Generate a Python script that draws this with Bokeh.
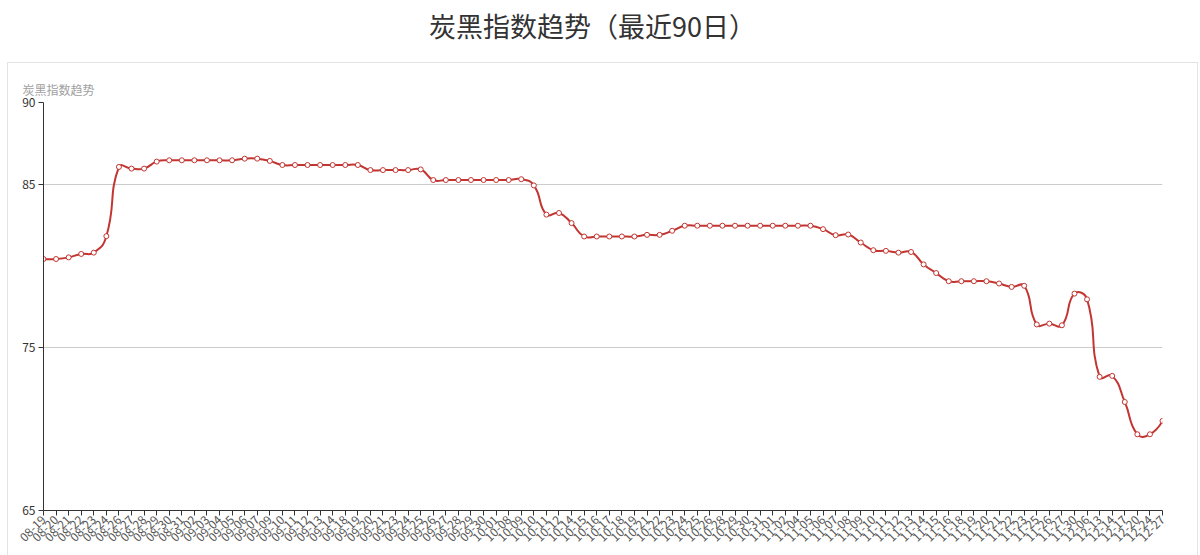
import numpy as np
from bokeh.plotting import figure
from bokeh.models import Range1d, FixedTicker, Div, Title, ColumnDataSource
from bokeh.layouts import column
from bokeh.embed import file_html
from bokeh.resources import INLINE

# ---- data -------------------------------------------------------------
dates = [
    "08-19", "08-20", "08-21", "08-22", "08-23", "08-24", "08-26", "08-27", "08-28", "08-29",
    "08-30", "08-31", "09-02", "09-03", "09-04", "09-05", "09-06", "09-07", "09-09", "09-10",
    "09-11", "09-12", "09-13", "09-14", "09-18", "09-19", "09-20", "09-21", "09-23", "09-24",
    "09-25", "09-26", "09-27", "09-28", "09-29", "09-30", "10-01", "10-08", "10-09", "10-10",
    "10-11", "10-12", "10-14", "10-15", "10-16", "10-17", "10-18", "10-19", "10-21", "10-22",
    "10-23", "10-24", "10-25", "10-26", "10-28", "10-29", "10-30", "10-31", "11-01", "11-02",
    "11-04", "11-05", "11-06", "11-07", "11-08", "11-09", "11-10", "11-11", "11-12", "11-13",
    "11-14", "11-15", "11-16", "11-18", "11-19", "11-20", "11-21", "11-22", "11-23", "11-25",
    "11-26", "11-27", "11-30", "12-06", "12-13", "12-14", "12-17", "12-20", "12-24", "12-27",
]

index_values = [
    80.41, 80.41, 80.51, 80.72, 80.80, 81.81, 86.05, 85.95, 85.95, 86.38,
    86.46, 86.46, 86.46, 86.46, 86.46, 86.46, 86.56, 86.56, 86.42, 86.17,
    86.17, 86.17, 86.17, 86.17, 86.17, 86.17, 85.86, 85.86, 85.86, 85.86,
    85.90, 85.25, 85.25, 85.25, 85.25, 85.25, 85.25, 85.25, 85.30, 84.92,
    83.13, 83.23, 82.61, 81.79, 81.79, 81.79, 81.79, 81.79, 81.89, 81.89,
    82.14, 82.45, 82.45, 82.45, 82.45, 82.45, 82.45, 82.45, 82.45, 82.45,
    82.45, 82.45, 82.24, 81.87, 81.91, 81.42, 80.95, 80.91, 80.80, 80.84,
    80.08, 79.55, 79.05, 79.05, 79.05, 79.05, 78.91, 78.70, 78.77, 76.40,
    76.45, 76.35, 78.29, 77.94, 73.19, 73.25, 71.65, 69.67, 69.67, 70.49,
]

y_ticks = [65, 75, 85, 90]

# ---- styling ----------------------------------------------------------
FONT = "Noto Sans CJK SC"
LINE_COLOR = "#c23531"

PLOT_W, PLOT_H = 1191, 493
LEFT, RIGHT, TOP, BOTTOM = 35, 37, 39, 46
Y_MIN, Y_MAX = 65, 90

n = len(index_values)
xs = np.arange(n, dtype=float)
ys = np.array(index_values, dtype=float)

# Smoothed path: cubic bezier segments whose control points are derived
# from neighbouring points in screen space (smoothness 0.5).
frame_w = PLOT_W - LEFT - RIGHT
frame_h = PLOT_H - TOP - BOTTOM
kx = frame_w / (n - 1)
ky = frame_h / (Y_MAX - Y_MIN)
px, py = xs * kx, ys * ky
smooth = 0.5

seg = dict(x0=[], y0=[], x1=[], y1=[], cx0=[], cy0=[], cx1=[], cy1=[])
cpx, cpy = px[0], py[0]
for i in range(1, n):
    x, y = px[i], py[i]
    prev_x, prev_y = px[i - 1], py[i - 1]
    if i == n - 1:
        ncx, ncy = x, y
        vx = vy = 0.0
        ratio = 0.5
    else:
        nx_, ny_ = px[i + 1], py[i + 1]
        vx, vy = nx_ - prev_x, ny_ - prev_y
        l0 = np.hypot(x - prev_x, y - prev_y)
        l1 = np.hypot(nx_ - x, ny_ - y)
        ratio = l1 / (l0 + l1)
        ncx = x - vx * smooth * (1 - ratio)
        ncy = y - vy * smooth * (1 - ratio)
    seg["x0"].append(prev_x / kx); seg["y0"].append(prev_y / ky)
    seg["x1"].append(x / kx); seg["y1"].append(y / ky)
    seg["cx0"].append(cpx / kx); seg["cy0"].append(cpy / ky)
    seg["cx1"].append(ncx / kx); seg["cy1"].append(ncy / ky)
    cpx = x + vx * smooth * ratio
    cpy = y + vy * smooth * ratio

# ---- figure -----------------------------------------------------------
p = figure(
    width=PLOT_W, height=PLOT_H,
    x_range=Range1d(0, n - 1), y_range=Range1d(Y_MIN, Y_MAX),
    output_backend="svg", toolbar_location=None,
    min_border_left=LEFT, min_border_right=RIGHT,
    min_border_top=TOP, min_border_bottom=BOTTOM,
    margin=(0, 0, 0, 7),
    styles={"border-left": "1px solid #e3e3e3",
            "border-top": "1px solid #e3e3e3",
            "border-right": "1px solid #e3e3e3"},
)
p.outline_line_color = None
p.background_fill_color = "white"
p.border_fill_color = "white"

p.title = Title(
    text="炭黑指数趋势", align="left", offset=-21, standoff=10,
    text_font=FONT, text_font_size="12px", text_font_style="normal",
    text_color="#a0a0a0",
)

p.xgrid.grid_line_color = None
p.ygrid.grid_line_color = "#cccccc"
p.ygrid.grid_line_width = 1
p.ygrid.ticker = FixedTicker(ticks=y_ticks[1:])

p.yaxis.ticker = FixedTicker(ticks=y_ticks)
p.yaxis.minor_tick_line_color = None
p.yaxis.major_tick_out = 5
p.yaxis.major_tick_in = 0
p.yaxis.axis_line_color = "#333333"
p.yaxis.major_tick_line_color = "#333333"
p.yaxis.major_label_text_font = FONT
p.yaxis.major_label_text_font_size = "12px"
p.yaxis.major_label_text_color = "#333333"
p.yaxis.major_label_standoff = 3

p.xaxis.ticker = FixedTicker(ticks=list(range(n)))
p.xaxis.major_label_overrides = {i: d for i, d in enumerate(dates)}
p.xaxis.minor_tick_line_color = None
p.xaxis.major_tick_out = 5
p.xaxis.major_tick_in = 0
p.xaxis.axis_line_color = "#333333"
p.xaxis.major_tick_line_color = "#333333"
p.xaxis.major_label_orientation = np.pi / 4
p.xaxis.major_label_text_font = FONT
p.xaxis.major_label_text_font_size = "12px"
p.xaxis.major_label_text_color = "#555555"
p.xaxis.major_label_standoff = 2

p.bezier(x0="x0", y0="y0", x1="x1", y1="y1", cx0="cx0", cy0="cy0",
         cx1="cx1", cy1="cy1", source=ColumnDataSource(seg),
         line_color=LINE_COLOR, line_width=2)
p.scatter(xs, ys, size=5, marker="circle", fill_color="white",
          line_color=LINE_COLOR, line_width=1)

title_div = Div(
    text="炭黑指数趋势（最近90日）", width=1185, height=62, margin=0,
    styles={"font-family": FONT, "font-size": "27px", "color": "#333333",
            "text-align": "center", "line-height": "52px"},
)

layout = column(title_div, p, margin=0)

open("out.html", "w").write(file_html(layout, INLINE))
